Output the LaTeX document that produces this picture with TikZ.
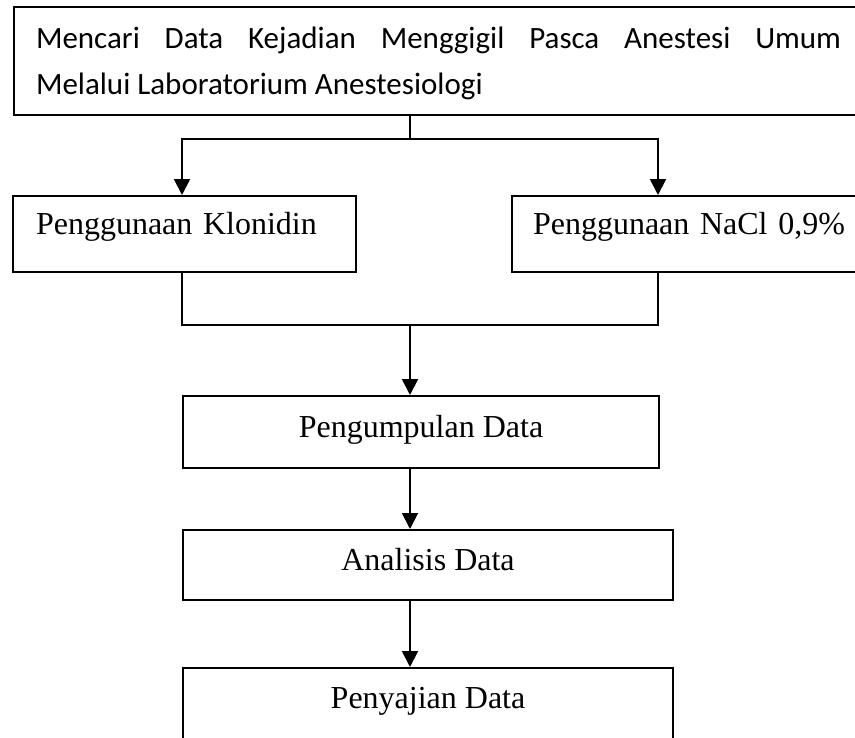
\documentclass[tikz,border=0pt]{standalone}
\usepackage{fontspec}
\setmainfont{Liberation Serif}
\newfontfamily\calibri{Carlito}
\usetikzlibrary{arrows.meta,positioning}
\tikzset{
  box/.style={draw=black, line width=2bp, inner ysep=0pt, anchor=north west,
    font=\fontsize{32bp}{38bp}\selectfont},
  sidebox/.style={box, align=left, text height=38bp, text depth=38bp},
  stagebox/.style={box, inner xsep=0pt, text height=40bp, text depth=30bp},
  line/.style={draw=black, line width=1.9bp},
  arr/.style={line, -{Triangle[length=16bp, width=16bp]}}
}
\begin{document}
\begin{tikzpicture}[x=1bp,y=-1bp]
  \useasboundingbox (0,0) rectangle (855,738);
  \fill[white] (0,0) rectangle (855,738);
  \clip (0,0) rectangle (855,738);

  \node[box, align=justify, text width=805bp, inner xsep=22bp, text height=41bp, text depth=67bp,
    font=\calibri\fontsize{31bp}{46bp}\selectfont] (source) at (13,6)
    {Mencari Data Kejadian Menggigil Pasca Anestesi Umum\linebreak Melalui Laboratorium Anestesiologi};

  \node[sidebox, text width=297bp, inner xsep=23bp] (klonidin) at (12,195) {Penggunaan Klonidin};
  \node[sidebox, text width=340bp, inner xsep=21bp] (nacl) at (511,195) {Penggunaan NaCl 0,9\%};

  \node[stagebox, minimum width=476bp, text height=41bp, text depth=31bp] (kumpul) at (182,395) {Pengumpulan Data};
  \node[stagebox, minimum width=490bp] (analisis) at (182,529) {Analisis Data};
  \node[stagebox, minimum width=490bp, text depth=60bp] (sajian) at (182,667) {Penyajian Data};

  % split and merge points
  \coordinate (fork) at (410,139);
  \coordinate (forkL) at (182,139);
  \coordinate (forkR) at (658,139);
  \coordinate (join) at (410,325);
  \coordinate (joinL) at (182,325);
  \coordinate (joinR) at (658,325);

  \draw[line] (source.south -| fork) -- (fork);
  \draw[arr] (fork) -- (forkL) -- (forkL |- klonidin.north);
  \draw[arr] (fork) -- (forkR) -- (forkR |- nacl.north);
  \draw[line] (klonidin.south -| joinL) -- (joinL) -- (joinR) -- (nacl.south -| joinR);
  \draw[arr] (join) -- (join |- kumpul.north);
  \draw[arr] (kumpul.south -| join) -- (join |- analisis.north);
  \draw[arr] (analisis.south -| join) -- (join |- sajian.north);
\end{tikzpicture}
\end{document}
